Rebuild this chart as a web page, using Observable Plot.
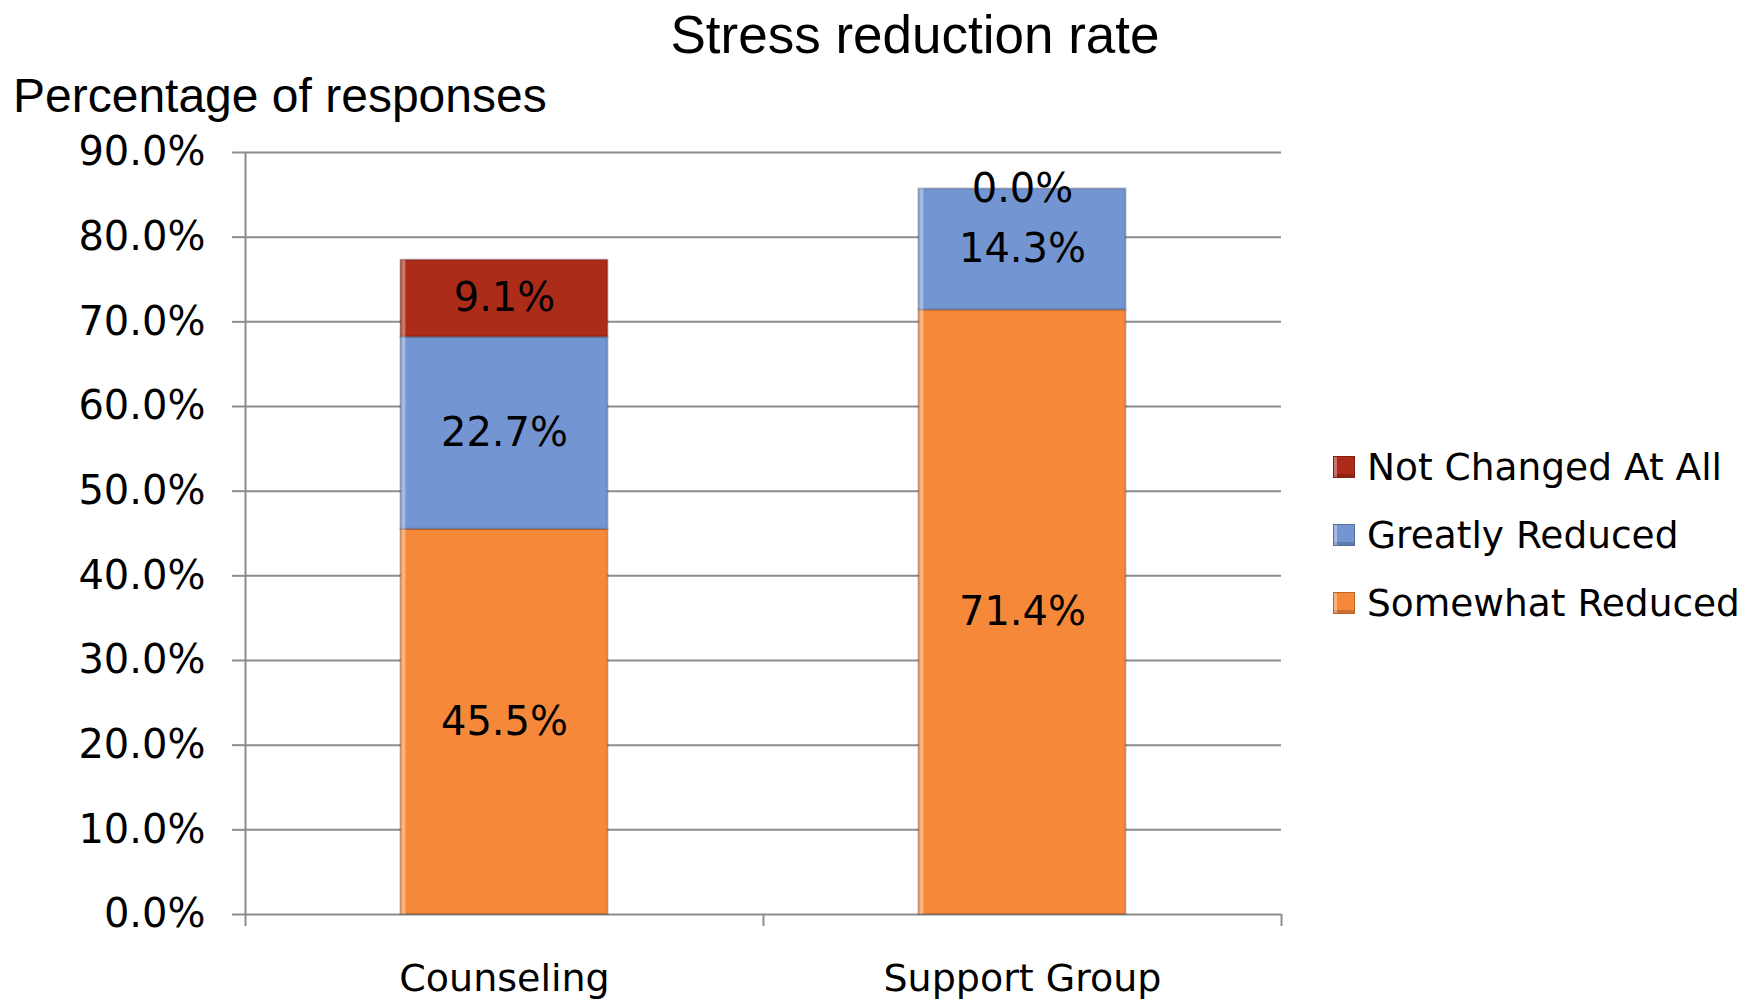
<!DOCTYPE html>
<html>
<head>
<meta charset="utf-8">
<script src="https://cdn.jsdelivr.net/npm/d3@7"></script>
<script src="https://cdn.jsdelivr.net/npm/@observablehq/plot@0.6"></script>
<style>
  html, body { margin: 0; padding: 0; background: #fff; }
  #chart { position: relative; width: 1754px; height: 1003px; overflow: hidden; background: #fff; }
  #chart svg { position: absolute; left: 0; top: 0; }
  .title { position: absolute; left: 0; top: 8px; width: 1830px; text-align: center;
           font-family: "Liberation Sans", Arial, sans-serif; font-size: 53px; line-height: 53px; color: #000; }
  .ylabel { position: absolute; left: 13px; top: 72px; white-space: nowrap;
            font-family: "Liberation Sans", Arial, sans-serif; font-size: 48px; line-height: 48px; color: #000; }
  .legend { position: absolute; left: 1333px; top: 433px; font-family: "DejaVu Sans", sans-serif; font-size: 37.5px; color: #000; }
  .legend .row { display: flex; align-items: center; height: 68px; white-space: nowrap; }
  .legend .sw { width: 22px; height: 22px; box-sizing: border-box; margin-right: 12px;
                border: 1px solid rgba(0,0,0,0.25); box-shadow: inset 3px 0 0 rgba(255,255,255,0.35), inset 0 -3px 0 rgba(0,0,0,0.18); }
</style>
</head>
<body>
<div id="chart"></div>
<script>
// ---- data ----
const categories = ["Counseling", "Support Group"];
const series = ["Somewhat Reduced", "Greatly Reduced", "Not Changed At All"];
const somewhatReduced = [45.5, 71.4];
const greatlyReduced = [22.7, 14.3];
const notChangedAtAll = [9.1, 0.0];
const yTicks = [0, 10, 20, 30, 40, 50, 60, 70, 80, 90];
const seriesColors = ["#f6883a", "#7396d3", "#ad2b19"];
const title = "Stress reduction rate";
const yTitle = "Percentage of responses";

// ---- table built from the arrays ----
const seriesValues = [somewhatReduced, greatlyReduced, notChangedAtAll];
const rows = [];
categories.forEach((c, i) => {
  series.forEach((s, j) => rows.push({category: c, series: s, value: seriesValues[j][i]}));
});

// ---- layout ----
const W = 1754, H = 1003;
const mL = 245, mR = 473, mT = 152, mB = 89;
const pInner = 0.6, pOuter = 0.3;
const step = (W - mL - mR) / (categories.length - pInner + 2 * pOuter);
const bw = step * (1 - pInner);
const yMax = 90;
const pxPerUnit = (H - mT - mB) / yMax;
const tickDown = 12 / pxPerUnit;
const gridColor = "#8c8c8c";
const fmt = d => d.toFixed(1) + "%";

const chart = Plot.plot({
  width: W, height: H,
  marginLeft: mL, marginRight: mR, marginTop: mT, marginBottom: mB,
  style: {fontFamily: "'DejaVu Sans', sans-serif", fontSize: "40px", color: "#000", background: "transparent", overflow: "visible"},
  x: {type: "band", domain: categories, paddingInner: pInner, paddingOuter: pOuter, round: false, label: null},
  y: {domain: [0, yMax], label: null},
  color: {domain: series, range: seriesColors},
  marks: [
    Plot.ruleY(yTicks, {stroke: gridColor, strokeWidth: 2}),
    Plot.ruleX([categories[0]], {x: d => d, dx: -step / 2, y1: -tickDown, y2: yMax, stroke: gridColor, strokeWidth: 2}),
    Plot.ruleX(categories.slice(1), {x: d => d, dx: -step / 2, y1: -tickDown, y2: 0, stroke: gridColor, strokeWidth: 2}),
    Plot.ruleX([categories[categories.length - 1]], {x: d => d, dx: step / 2, y1: -tickDown, y2: 0, stroke: gridColor, strokeWidth: 2}),
    Plot.barY(rows, {x: "category", y: "value", fill: "series", stroke: "#000", strokeOpacity: 0.2, strokeWidth: 2}),
    Plot.barY(rows, {x: "category", y: "value", fill: "#fff", fillOpacity: 0.35, insetRight: bw - 5, insetLeft: 1}),
    Plot.text(rows, Plot.stackY({x: "category", y: "value", text: d => fmt(d.value), fontSize: 40, fill: "#000"})),
    Plot.axisY({ticks: yTicks, tickSize: 13, tickPadding: 27, tickFormat: fmt, stroke: gridColor, strokeWidth: 2, strokeOpacity: 1, fill: "#000", label: null}),
    Plot.axisX({tickSize: 0, tickPadding: 50, fontSize: 38, fill: "#000", label: null})
  ]
});

const root = document.getElementById("chart");
root.appendChild(chart);

const t = document.createElement("div");
t.className = "title"; t.textContent = title; root.appendChild(t);
const yl = document.createElement("div");
yl.className = "ylabel"; yl.textContent = yTitle; root.appendChild(yl);

const legend = document.createElement("div");
legend.className = "legend";
series.slice().reverse().forEach(s => {
  const row = document.createElement("div");
  row.className = "row";
  const sw = document.createElement("div");
  sw.className = "sw";
  sw.style.background = seriesColors[series.indexOf(s)];
  const label = document.createElement("span");
  label.textContent = s;
  row.appendChild(sw); row.appendChild(label);
  legend.appendChild(row);
});
root.appendChild(legend);
</script>
</body>
</html>
